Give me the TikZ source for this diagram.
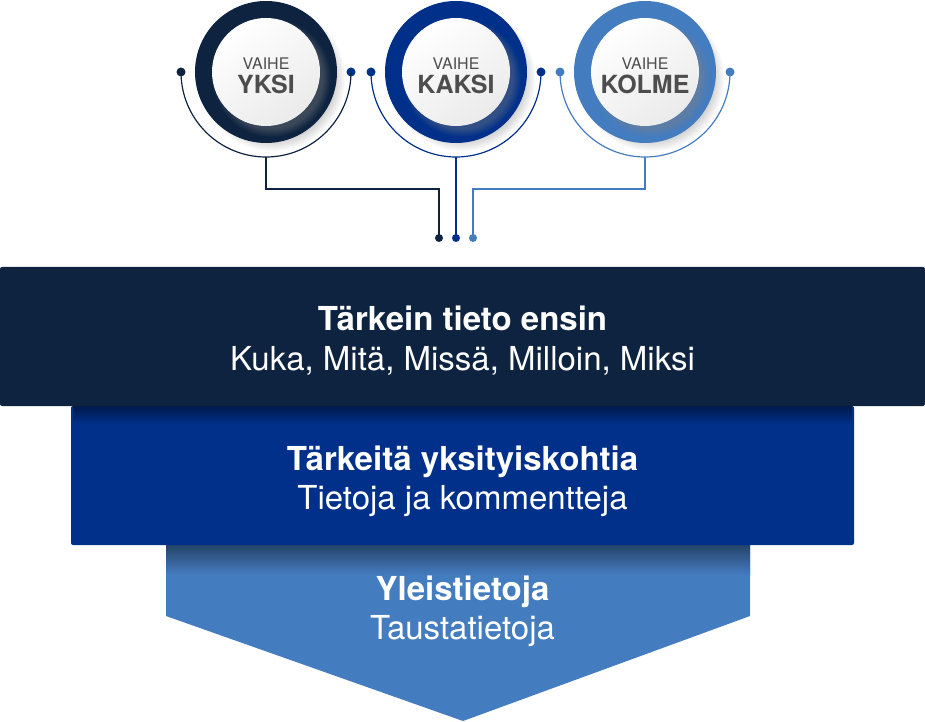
\documentclass[tikz,border=0pt]{standalone}
\usepackage{fontspec}
\setmainfont{TeX Gyre Heros}
\usetikzlibrary{shadows}
\definecolor{navy}{HTML}{0D2340}
\definecolor{royal}{HTML}{00308A}
\definecolor{sky}{HTML}{447CC0}
\definecolor{ink}{HTML}{4D4D4D}
\tikzset{
  ring/.style={circle, inner sep=0pt, minimum size=142pt,
    circular drop shadow={shadow xshift=6pt, shadow yshift=-6pt, shadow scale=1.03, opacity=0.35}},
  face/.style={circle, inner sep=0pt, minimum size=108pt, top color=white, bottom color=black!8, shading angle=35,
    circular drop shadow={shadow xshift=5pt, shadow yshift=-5pt, opacity=0.4}},
  pin/.style={circle, fill, inner sep=0pt, minimum size=9pt},
  wire/.style={line width=1.2pt},
  small/.style={text=ink, anchor=base, font=\fontsize{16}{16}\selectfont},
  big/.style={text=ink, anchor=base, font=\bfseries\fontsize{25}{25}\selectfont},
  band/.style={rounded corners=2pt, inner sep=0pt, minimum width=#1, minimum height=139pt},
  head/.style={text=white, anchor=base, font=\bfseries\fontsize{33}{33}\selectfont},
  sub/.style={text=white, anchor=base, font=\fontsize{33}{33}\selectfont},
}
\begin{document}
\begin{tikzpicture}[x=1pt, y=1pt]
    \useasboundingbox (0,0) rectangle (925,721);

    % the three stages
    \node[ring, fill=navy] (r1) at (266,649) {};
    \node[ring, fill=royal] (r2) at (456,649) {};
    \node[ring, fill=sky] (r3) at (645,649) {};
    \node[face] (f1) at (266,649) {};
    \node[face] (f2) at (456,649) {};
    \node[face] (f3) at (645,649) {};
    \node[small] (v1) at (266,651) {VAIHE};
    \node[big] (n1) at (266,627) {YKSI};
    \node[small] (v2) at (456,651) {VAIHE};
    \node[big] (n2) at (456,627) {KAKSI};
    \node[small] (v3) at (645,651) {VAIHE};
    \node[big] (n3) at (645,627) {KOLME};

    % half rings with their end pins
    \node[pin, navy] (p1l) at (181,649) {};
    \node[pin, royal] (p1r) at (351,649) {};
    \node[pin, royal] (p2l) at (371,649) {};
    \node[pin, royal] (p2r) at (541,649) {};
    \node[pin, sky] (p3l) at (560,649) {};
    \node[pin, sky] (p3r) at (730,649) {};
    \draw[wire, navy] (p1l.center) arc[start angle=180, end angle=360, radius=85];
    \draw[wire, royal] (p2l.center) arc[start angle=180, end angle=360, radius=85];
    \draw[wire, sky] (p3l.center) arc[start angle=180, end angle=360, radius=85];

    % wires down to the pyramid
    \coordinate (b1) at (266,564);
    \coordinate (b2) at (456,564);
    \coordinate (b3) at (645,564);
    \node[pin, navy, minimum size=8pt] (e1) at (439,483) {};
    \node[pin, royal, minimum size=8pt] (e2) at (456,483) {};
    \node[pin, sky, minimum size=8pt] (e3) at (473,483) {};
    \draw[wire, navy] (b1) |- (439,532) -- (e1.center);
    \draw[wire, royal] (b2) -- (e2.center);
    \draw[wire, sky] (b3) |- (473,532) -- (e3.center);

    % inverted pyramid
    \fill[sky] (166,176) -- (750,176) -- (750,105) -- (463,0) -- (166,105) -- cycle;
    \shade[top color=sky!55!black, bottom color=sky] (166,176) rectangle (750,146);
    \node[band=783pt, fill=royal] (mid) at (462.5,245.5) {};
    \shade[top color=royal!55!black, bottom color=royal] (73,315) rectangle (852,297);
    \node[band=925pt, fill=navy] (top) at (462.5,384.5) {};

    \node[head] (t1) at (462.5,391) {Tärkein tieto ensin};
    \node[sub] (s1) at (462.5,351) {Kuka, Mitä, Missä, Milloin, Miksi};
    \node[head] (t2) at (462.5,251) {Tärkeitä yksityiskohtia};
    \node[sub] (s2) at (462.5,212) {Tietoja ja kommentteja};
    \node[head] (t3) at (462.5,121) {Yleistietoja};
    \node[sub] (s3) at (462.5,82) {Taustatietoja};
\end{tikzpicture}
\end{document}
